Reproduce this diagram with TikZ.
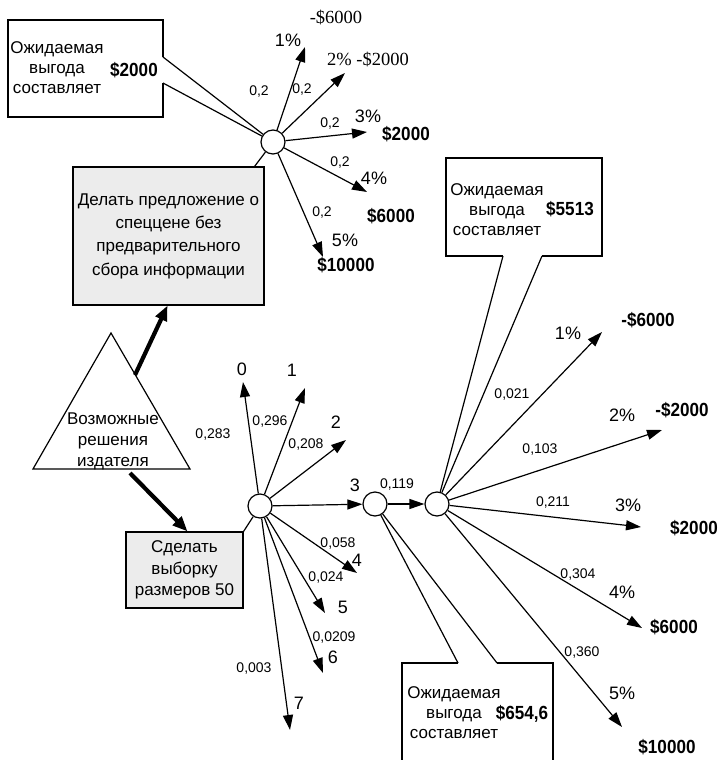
\documentclass[tikz,border=0pt]{standalone}
\usepackage{fontspec}
\setmainfont{Liberation Sans}
\newfontfamily\serifnum{Liberation Serif}
\newfontfamily\boldnum[FakeStretch=0.9]{Liberation Sans}
\usetikzlibrary{arrows.meta}

\begin{document}
\begin{tikzpicture}[x=1pt,y=-1pt,
  thin/.style={line width=1.2pt},
  arr/.style={line width=1.2pt,-{Triangle[length=15pt,width=10pt]}},
  bigarr/.style={line width=4.2pt,-{Triangle[length=15pt,width=12pt]}},
  chance/.style={circle,draw,line width=1.2pt,fill=white,minimum size=24pt,inner sep=0pt},
  prob/.style={font=\fontsize{14}{16}\selectfont,inner sep=0pt},
  lbl/.style={font=\fontsize{18}{20}\selectfont,inner sep=0pt},
  amt/.style={font=\boldnum\bfseries\fontsize{19}{21}\selectfont,inner sep=0pt},
  ser/.style={font=\serifnum\fontsize{18.5}{20}\selectfont,inner sep=0pt},
  ctext/.style={font=\fontsize{17}{20}\selectfont,align=center,inner sep=0pt},
  actbox/.style={draw,line width=1.2pt,fill=gray!15,align=center,inner sep=0pt},
]
\useasboundingbox (0,0) rectangle (719,760);

% ---------- chance nodes ----------
\node[chance] (c1) at (273,142) {};
\node[chance] (c2) at (260,506) {};
\node[chance] (c3) at (375,504) {};
\node[chance] (c4) at (437,504) {};

% ---------- decision boxes ----------
\node[actbox,minimum width=191pt,minimum height=138pt,
      font=\fontsize{17}{23.3}\selectfont] (d1) at (168.5,236)
  {Делать предложение о\\спеццене без\\предварительного\\сбора информации};
\node[actbox,minimum width=117pt,minimum height=76pt,
      font=\fontsize{17}{21.5}\selectfont] (d2) at (184.5,570)
  {Сделать\\выборку\\размеров 50};

% ---------- decision triangle ----------
\coordinate (trA) at (111,333);
\coordinate (trL) at (33,469);
\coordinate (trR) at (190,469);
\draw[thin] (trL) -- (trA) -- (trR) -- cycle;
\node[ctext,font=\fontsize{17}{21}\selectfont] (trtext) at (113,441)
  {Возможные\\решения\\издателя};
\coordinate (trOut1) at (135,375);
\coordinate (trOut2) at (130,473);
\draw[bigarr] (trOut1) -- ([xshift=-1pt]d1.south);
\draw[bigarr] (trOut2) -- ([xshift=3pt]d2.north);

% ---------- links from boxes to chance nodes ----------
\draw[thin] ([xshift=-10pt]d1.north east) -- (c1);
\draw[thin] (d2.north east) -- (c2);

% ---------- callout: upper left ----------
\coordinate (qa) at (163,57);
\coordinate (qb) at (163,83);
\draw[thin] (qa) -- (163,20) -- (8,20) -- (8,117) -- (163,117) -- (qb);
\draw[thin] (qa) -- (c1);
\draw[thin] (qb) -- (c1);
\node[ctext] (q1t) at (57,68) {Ожидаемая\\выгода\\составляет};
\node[amt] (q1v) at (134,70) {\$2000};

% ---------- callout: upper right ----------
\coordinate (pa) at (503,256);
\coordinate (pb) at (542,256);
\draw[thin] (pa) -- (446,256) -- (446,158) -- (602,158) -- (602,256) -- (pb);
\draw[thin] (pa) -- (c4);
\draw[thin] (pb) -- (c4);
\node[ctext] (q2t) at (497,210) {Ожидаемая\\выгода\\составляет};
\node[amt] (q2v) at (570,209) {\$5513};

% ---------- callout: bottom ----------
\coordinate (ra) at (458,663);
\coordinate (rb) at (497,663);
\draw[thin] (ra) -- (402,663) -- (402,762);
\draw[thin] (rb) -- (553,663) -- (553,762);
\draw[thin] (ra) -- (c3);
\draw[thin] (rb) -- (c3);
\node[ctext] (q3t) at (454,713) {Ожидаемая\\выгода\\составляет};
\node[amt] (q3v) at (522,714) {\$654,6};

% ---------- fan of the first chance node ----------
\coordinate (t1) at (305,47);
\coordinate (t2) at (345,73);
\coordinate (t3) at (367,132);
\coordinate (t4) at (367,192);
\coordinate (t5) at (323,257);
\foreach \t in {t1,t2,t3,t4,t5} \draw[arr] (c1) -- (\t);
\node[prob] at (259,92) {0,2};
\node[prob] at (302,90) {0,2};
\node[prob] at (330,124) {0,2};
\node[prob] at (340,163) {0,2};
\node[prob] at (322,213) {0,2};
\node[lbl] at (288,40) {1\%};
\node[ser] at (336,18) {-\$6000};
\node[ser] at (368,60) {2\% -\$2000};
\node[lbl] at (368,116) {3\%};
\node[amt] at (406,134) {\$2000};
\node[lbl] at (374,178) {4\%};
\node[amt] at (391,216) {\$6000};
\node[lbl] at (345,240) {5\%};
\node[amt] at (346,265) {\$10000};

% ---------- fan of the sample node ----------
\coordinate (b0) at (243,382);
\coordinate (b1) at (305,388);
\coordinate (b2) at (346,440);
\coordinate (b4) at (357,573);
\coordinate (b5) at (325,613);
\coordinate (b6) at (323,673);
\coordinate (b7) at (290,730);
\foreach \t in {b0,b1,b2,b4,b5,b6,b7} \draw[arr] (c2) -- (\t);
\draw[arr] (c2) -- (c3);
\draw[arr] (c3) -- (c4);
\node[lbl] at (242,369) {0};
\node[lbl] at (292,370) {1};
\node[lbl] at (336,422) {2};
\node[lbl] at (355,485) {3};
\node[lbl] at (357,560) {4};
\node[lbl] at (343,607) {5};
\node[lbl] at (333,657) {6};
\node[lbl] at (299,703) {7};
\node[prob] at (213,435) {0,283};
\node[prob] at (270,422) {0,296};
\node[prob] at (306,445) {0,208};
\node[prob] at (397,485) {0,119};
\node[prob] at (338,544) {0,058};
\node[prob] at (326,578) {0,024};
\node[prob] at (334,637) {0,0209};
\node[prob] at (254,668) {0,003};

% ---------- fan of the last chance node ----------
\coordinate (s1) at (602,332);
\coordinate (s2) at (662,430);
\coordinate (s3) at (641,527);
\coordinate (s4) at (642,628);
\coordinate (s5) at (622,727);
\foreach \t in {s1,s2,s3,s4,s5} \draw[arr] (c4) -- (\t);
\node[prob] at (512,395) {0,021};
\node[prob] at (540,450) {0,103};
\node[prob] at (553,503) {0,211};
\node[prob] at (578,575) {0,304};
\node[prob] at (582,652) {0,360};
\node[lbl] at (568,333) {1\%};
\node[lbl] at (622,415) {2\%};
\node[lbl] at (628,505) {3\%};
\node[lbl] at (622,592) {4\%};
\node[lbl] at (622,693) {5\%};
\node[amt] at (648,320) {-\$6000};
\node[amt] at (682,410) {-\$2000};
\node[amt] at (694,528) {\$2000};
\node[amt] at (674,627) {\$6000};
\node[amt] at (667,747) {\$10000};
\end{tikzpicture}
\end{document}
